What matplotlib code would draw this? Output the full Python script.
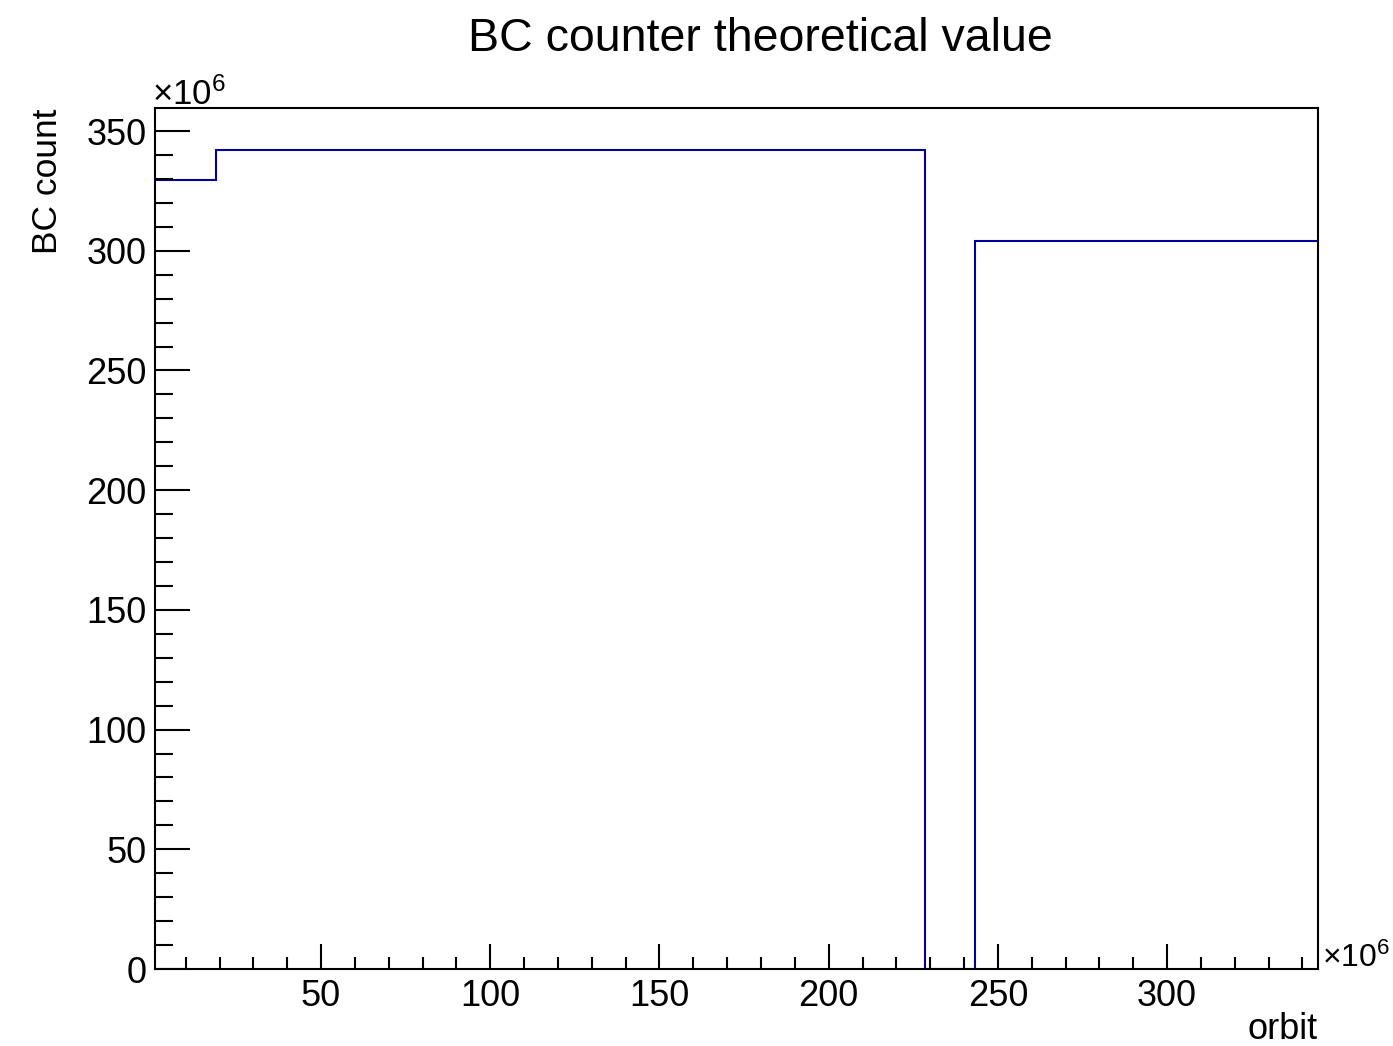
import matplotlib
matplotlib.use("Agg")
import matplotlib.pyplot as plt
from matplotlib.ticker import MultipleLocator, FuncFormatter

plt.rcParams['font.family'] = ['Liberation Sans', 'DejaVu Sans']
plt.rcParams['mathtext.fontset'] = 'custom'
plt.rcParams['mathtext.rm'] = 'Liberation Sans'
plt.rcParams['mathtext.it'] = 'Liberation Sans'

# Histogram bin edges (orbit, x1e6) and contents (BC count, x1e6)
bin_edges = [0.95, 18.95, 228.5, 243.3, 344.6]
bc_counts = [329.7, 342.1, 0.0, 304.1]

title = "BC counter theoretical value"
x_label = "orbit"
y_label = "BC count"

fig = plt.figure(figsize=(13.93, 10.46), dpi=100)
ax = fig.add_axes([0.1113, 0.0736, 0.8349, 0.8231])

ax.stairs(bc_counts, bin_edges, baseline=None, color='#000099', linewidth=1.5)

ax.set_xlim(bin_edges[0], bin_edges[-1])
ax.set_ylim(0, 359.6)

for s in ax.spines.values():
    s.set_linewidth(1.5)

ax.xaxis.set_major_locator(MultipleLocator(50))
ax.xaxis.set_minor_locator(MultipleLocator(10))
ax.yaxis.set_major_locator(MultipleLocator(50))
ax.yaxis.set_minor_locator(MultipleLocator(10))
fmt = FuncFormatter(lambda v, p: f"{v:g}")
ax.xaxis.set_major_formatter(fmt)
ax.yaxis.set_major_formatter(fmt)

ax.tick_params(axis='x', which='major', direction='in', length=18, width=1.5,
               labelsize=26, pad=7, top=False)
ax.tick_params(axis='x', which='minor', direction='in', length=9, width=1.5, top=False)
ax.tick_params(axis='y', which='major', direction='in', length=25, width=1.5,
               labelsize=26, pad=6, right=False)
ax.tick_params(axis='y', which='minor', direction='in', length=13, width=1.5, right=False)

fig.text(0.546, 0.963, title, fontsize=33.5, ha='center', va='center')
fig.text(0.9462, 0.0155, x_label, fontsize=26, ha='right', va='center')
ax.set_ylabel(y_label, fontsize=25.5, loc='top', labelpad=16)

ax.text(-0.003, 0.996, r'$\times10^{6}$', transform=ax.transAxes, fontsize=25,
        ha='left', va='bottom')
ax.text(1.003, -0.006, r'$\times10^{6}$', transform=ax.transAxes, fontsize=23,
        ha='left', va='bottom')

fig.savefig("out.png", dpi=100, facecolor='white')
